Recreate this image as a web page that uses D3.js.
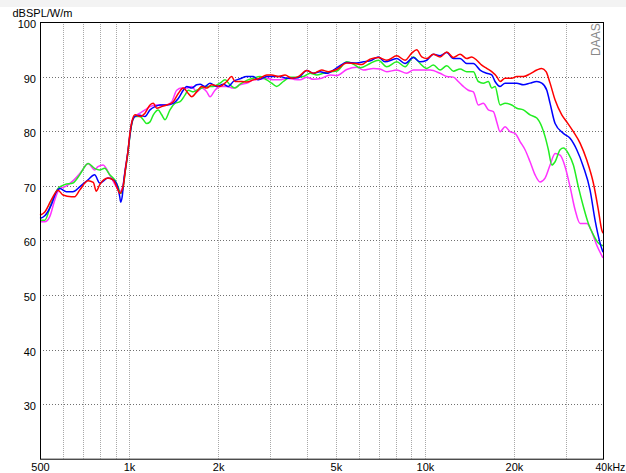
<!DOCTYPE html>
<html>
<head>
<meta charset="utf-8">
<style>
  body { margin: 0; background: #fff; }
  svg { display: block; }
  text { font-family: "Liberation Sans", Arial, sans-serif; }
</style>
</head>
<body>
<svg width="626" height="473"></svg>
<script src="https://d3js.org/d3.v7.min.js"></script>
<script>

// frequency axis
var freqTicks = [500, 1000, 2000, 5000, 10000, 20000, 40000],
    freqLabels = ["500", "1k", "2k", "5k", "10k", "20k", "40kHz"],
    gridFreqs = [600, 700, 800, 900, 1000, 2000, 3000, 4000, 5000, 6000, 7000, 8000, 9000, 10000, 20000, 30000],
    dbTicks = [30, 40, 50, 60, 70, 80, 90, 100];

// measured curves, [Hz, dB]
var redSeries = [
  [500,64.6],[519,65.2],[546,67.4],[575,69.2],[598,68.3],[638,68.0],[655,68.0],[681,69.2],[727,70.9],[757,70.6],
  [775,69.0],[796,70.2],[849,71.4],[883,71.1],[918,69.2],[930,68.6],[954,69.8],[975,73.5],[993,76.6],[1005,79.3],
  [1023,81.8],[1048,83.0],[1089,82.7],[1132,83.3],[1177,84.8],[1208,85.1],[1240,84.2],[1289,84.5],[1341,84.8],[1411,85.4],
  [1467,86.9],[1525,87.9],[1586,86.9],[1629,86.3],[1693,87.2],[1761,88.2],[1831,87.9],[1903,88.5],[2030,88.2],[2139,89.1],
  [2223,90.0],[2281,89.1],[2403,89.1],[2499,89.0],[2631,89.4],[2772,89.7],[2920,90.3],[3036,90.3],[3196,90.0],[3368,90.3],
  [3548,89.7],[3734,90.0],[3987,91.1],[4197,90.6],[4480,91.2],[4716,90.9],[5035,91.3],[5444,92.5],[5806,92.4],[6117,92.2],
  [6440,93.0],[6527,93.2],[6962,93.5],[7432,93.0],[8033,93.8],[8570,93.0],[9029,94.3],[9384,94.9],[9758,93.6],[10146,93.3],
  [10684,94.1],[11254,93.6],[11856,94.5],[12481,93.5],[13149,94.1],[13849,93.3],[14401,93.6],[14973,93.0],[15566,92.1],[16182,91.5],
  [16826,90.9],[17497,90.0],[17953,89.1],[18663,89.7],[19663,89.7],[20444,90.0],[21522,90.0],[22675,90.5],[23891,91.2],[24840,91.5],
  [25683,90.9],[26495,88.8],[27552,85.7],[29023,83.0],[30175,81.7],[31762,79.9],[33463,77.8],[35249,74.7],[37106,70.5],[38580,65.6],
  [39613,61.9],[40000,61.3]
];

var blueSeries = [
  [500,64.0],[519,64.5],[546,66.5],[568,68.9],[583,69.5],[614,68.9],[646,68.9],[681,69.8],[727,71.1],[765,72.0],
  [796,70.5],[849,71.4],[894,70.9],[918,69.5],[930,68.0],[937,67.0],[948,68.0],[960,71.0],[975,73.5],[993,76.6],
  [1005,79.0],[1023,81.6],[1048,82.7],[1089,82.9],[1132,82.7],[1177,83.9],[1224,84.5],[1272,84.8],[1341,84.8],[1411,85.1],
  [1467,86.0],[1525,87.5],[1566,88.2],[1629,87.9],[1693,88.5],[1738,88.6],[1806,88.2],[1878,88.8],[1978,88.2],[2083,88.6],
  [2166,88.2],[2251,89.1],[2372,89.6],[2499,90.0],[2631,90.0],[2735,89.4],[2920,90.0],[3239,90.0],[3412,89.7],[3734,89.8],
  [3987,91.1],[4197,90.6],[4422,90.9],[4658,90.6],[5035,91.6],[5444,92.6],[5883,92.5],[6194,92.7],[6613,93.0],[6962,93.6],
  [7334,92.7],[8033,93.3],[8570,92.4],[9141,93.5],[9632,92.7],[10146,93.0],[10684,94.1],[11254,93.8],[11856,94.4],[12481,93.3],
  [13149,93.3],[13849,92.4],[14580,92.4],[15363,91.2],[16182,90.6],[16826,90.3],[17267,89.1],[17953,88.2],[18663,88.8],[19663,88.8],
  [20444,88.8],[21522,88.5],[22675,88.8],[23891,89.1],[24840,88.8],[25826,87.5],[26495,85.1],[27552,81.4],[29387,79.6],[30959,78.7],
  [32611,76.6],[34330,73.5],[36168,69.2],[37600,63.7],[39096,59.5],[40000,57.8]
];

var greenSeries = [
  [500,63.7],[519,63.7],[546,66.8],[575,69.5],[606,70.2],[646,70.5],[681,72.0],[727,74.1],[765,73.2],[796,72.9],
  [827,73.2],[860,72.0],[894,71.1],[918,69.8],[937,68.6],[954,69.5],[970,72.5],[993,76.3],[1005,78.8],[1023,81.5],
  [1048,82.7],[1089,82.7],[1117,82.1],[1147,81.4],[1177,81.7],[1208,83.0],[1255,83.9],[1289,83.0],[1323,82.1],[1375,83.9],
  [1430,85.1],[1487,85.4],[1545,86.6],[1586,87.5],[1649,87.2],[1693,87.5],[1761,87.9],[1831,88.2],[1927,88.2],[2030,88.8],
  [2111,89.4],[2194,88.5],[2281,87.9],[2372,88.6],[2499,89.3],[2631,89.7],[2772,90.0],[2920,89.4],[3036,88.8],[3156,88.2],
  [3323,89.1],[3501,89.9],[3688,89.9],[3882,90.0],[4091,90.6],[4310,90.3],[4536,90.6],[4779,90.9],[5035,91.0],[5444,92.7],
  [5806,92.1],[6036,91.6],[6527,92.4],[6962,93.0],[7432,91.8],[8033,92.7],[8570,91.8],[9141,93.6],[9632,92.4],[10146,91.5],
  [10684,92.1],[11254,91.2],[11856,92.0],[12481,91.0],[13149,91.4],[13849,90.9],[14580,90.9],[15161,89.1],[15759,88.8],[16388,89.1],
  [16826,87.9],[17267,88.2],[17953,84.8],[18663,85.1],[19663,84.8],[20444,84.2],[21522,83.9],[22675,83.0],[23891,82.4],[24840,80.8],
  [25484,79.0],[26149,76.6],[26851,73.8],[27552,74.4],[28645,76.6],[29387,76.9],[30552,75.9],[31762,73.8],[33020,69.8],[34330,66.2],
  [35690,63.1],[37106,61.0],[38580,59.5],[40000,59.0]
];

var magentaSeries = [
  [500,63.4],[519,63.4],[539,64.3],[561,67.4],[583,69.5],[606,69.8],[646,70.9],[690,72.6],[727,74.1],[765,72.9],
  [785,73.5],[817,73.8],[860,72.0],[906,69.8],[930,68.9],[954,70.0],[970,73.0],[993,76.6],[1005,79.0],[1023,81.8],
  [1048,82.7],[1089,83.3],[1132,83.9],[1177,84.5],[1224,84.8],[1272,84.8],[1341,84.8],[1394,85.4],[1449,87.5],[1506,87.9],
  [1566,87.9],[1629,88.2],[1693,87.2],[1761,87.9],[1831,87.2],[1878,86.3],[1952,87.5],[2030,88.2],[2139,88.2],[2251,87.9],
  [2372,88.5],[2530,88.9],[2631,89.4],[2772,89.5],[2920,89.7],[3074,89.4],[3239,89.4],[3412,89.7],[3600,89.5],[3784,89.4],
  [3987,89.9],[4197,89.5],[4480,89.7],[4779,90.3],[5035,90.2],[5444,91.3],[5883,91.7],[6194,91.2],[6696,91.5],[7054,91.4],
  [7432,90.9],[8033,91.2],[8683,90.6],[9141,91.2],[9632,91.2],[10414,91.2],[11254,90.6],[11856,90.0],[12481,89.9],[12974,89.1],
  [13489,88.2],[14023,87.5],[14580,87.2],[15161,84.8],[15759,85.1],[16388,83.9],[17040,83.6],[17497,81.7],[17953,79.9],[18663,80.8],
  [19403,79.9],[20175,79.6],[20973,78.1],[21806,76.6],[22675,74.4],[23574,72.0],[24510,70.7],[25484,71.4],[26495,73.8],[27552,75.9],
  [28645,75.6],[29780,73.5],[30959,69.8],[32186,65.6],[33463,63.1],[35249,63.1],[36647,61.6],[38103,59.1],[40000,56.8]
];

var svg = d3.select("svg"),
    plotLeft = 40, plotRight = 603, plotTop = 22, plotBottom = 458.7;

var x = d3.scaleLog().domain([500, 40000]).range([plotLeft, plotRight]),
    y = d3.scaleLinear().domain([20, 100]).range([plotBottom, plotTop]);

// faint strip across the top of the window
svg.append("rect").attr("width", 626).attr("height", 7).attr("fill", "#f3f3f3");

// grid
svg.append("g")
    .selectAll("line")
    .data(gridFreqs)
    .enter().append("line")
    .attr("x1", function(d) { return Math.round(x(d)) + 0.5; })
    .attr("x2", function(d) { return Math.round(x(d)) + 0.5; })
    .attr("y1", plotTop).attr("y2", plotBottom)
    .attr("stroke", "#a8a8a8")
    .attr("stroke-dasharray", "1,1");

svg.append("g")
    .selectAll("line")
    .data(dbTicks.filter(function(d) { return d < 100; }))
    .enter().append("line")
    .attr("x1", plotLeft).attr("x2", plotRight)
    .attr("y1", function(d) { return Math.round(y(d)) + 0.5; })
    .attr("y2", function(d) { return Math.round(y(d)) + 0.5; })
    .attr("stroke", "#707070")
    .attr("stroke-dasharray", "1,2");

// curves
var line = d3.line()
    .curve(d3.curveMonotoneX)
    .x(function(d) { return x(d[0]); })
    .y(function(d) { return y(d[1]); });

svg.append("g")
    .attr("fill", "none")
    .attr("stroke-width", 1.5)
    .attr("stroke-linejoin", "round")
    .selectAll("path")
    .data([
      {color: "#ff33ff", pts: magentaSeries},
      {color: "#22ee22", pts: greenSeries},
      {color: "#0000ff", pts: blueSeries},
      {color: "#ff0000", pts: redSeries}
    ])
    .enter().append("path")
    .attr("stroke", function(d) { return d.color; })
    .attr("d", function(d) { return line(d.pts); });

// frame
svg.append("rect")
    .attr("x", plotLeft + 0.5).attr("y", plotTop + 0.5)
    .attr("width", plotRight - plotLeft).attr("height", plotBottom - plotTop)
    .attr("fill", "none")
    .attr("stroke", "#000");

// axes (labels only)
var xAxis = svg.append("g")
    .attr("transform", "translate(0," + plotBottom + ")")
    .call(d3.axisBottom(x).tickValues(freqTicks)
      .tickFormat(function(d, i) { return freqLabels[i]; })
      .tickSize(0).tickPadding(4.5));
xAxis.select(".domain").remove();
xAxis.selectAll("text")
    .attr("font-size", 11).attr("font-family", "Liberation Sans, Arial, sans-serif").attr("fill", "#000")
    .filter(function(d) { return d === 40000; })
    .attr("font-size", 10.5)
    .attr("text-anchor", "start").attr("x", -8);

var yAxis = svg.append("g")
    .attr("transform", "translate(" + plotLeft + ",0)")
    .call(d3.axisLeft(y).tickValues(dbTicks).tickSize(0).tickPadding(4));
yAxis.select(".domain").remove();
yAxis.selectAll("text")
    .attr("font-size", 11).attr("font-family", "Liberation Sans, Arial, sans-serif").attr("fill", "#000")
    .attr("dy", "0.5em");

svg.append("text")
    .attr("x", 12.5).attr("y", 16.5)
    .attr("font-size", 11)
    .text("dBSPL/W/m");

svg.append("text")
    .attr("transform", "translate(600,56) rotate(-90)")
    .attr("font-size", 12)
    .attr("fill", "#888")
    .text("DAAS");

</script>
</body>
</html>
